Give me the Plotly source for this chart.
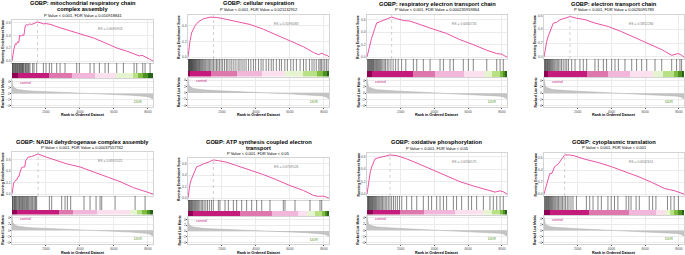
import plotly.graph_objects as go

W, H = 685, 255
N_GENES = 8300
FONT = "Liberation Sans, Arial, sans-serif"

# ---------------- data ----------------
titles = [
    ["GOBP: mitochondrial respiratory chain", "complex assembly"],
    ["GOBP: cellular respiration"],
    ["GOBP: respiratory electron transport chain"],
    ["GOBP: electron transport chain"],
    ["GOBP: NADH dehydrogenase complex assembly"],
    ["GOBP: ATP synthesis coupled electron", "transport"],
    ["GOBP: oxidative phosphorylation"],
    ["GOBP: cytoplasmic translation"],
]
pvals = [
    "P Value < 0.001, FDR Value = 0.010918841",
    "P Value < 0.001, FDR Value = 0.021132912",
    "P Value < 0.001, FDR Value = 0.000235959364",
    "P Value < 0.001, FDR Value = 0.0026095783",
    "P Value < 0.001, FDR Value = 0.00037557742",
    "P Value < 0.001, FDR Value < 0.05",
    "P Value < 0.001, FDR Value < 0.05",
    "P Value < 0.001, FDR Value < 0.001",
]
es_labels = ["ES = 0.6090903", "ES = 0.5093083", "ES = 0.6464726", "ES = 0.5852284",
             "ES = 0.6957021", "ES = 0.6709526", "ES = 0.6266575", "ES = 0.6562651"]

es_rank = [
    [0, 60, 120, 200, 260, 330, 400, 450, 560, 620, 700, 780, 850, 950, 1050, 1150, 1300, 1500, 1700, 1850, 2000, 2300, 2700, 3200, 4000, 4800, 5600, 6200, 6800, 7300, 7500, 7650, 7900, 8100, 8300],
    [0, 60, 120, 216, 300, 413, 610, 905, 1300, 1500, 1690, 2085, 2870, 3660, 4445, 5230, 6020, 6805, 7395, 7690, 7890, 8025, 8200, 8300],
    [0, 90, 178, 270, 375, 470, 573, 770, 968, 1166, 1462, 1758, 2150, 2550, 3140, 3930, 4720, 5510, 6300, 7090, 7690, 7980, 8150, 8300],
    [0, 80, 158, 250, 356, 450, 553, 750, 950, 1245, 1540, 1936, 2430, 3023, 3815, 4600, 5395, 6185, 6975, 7570, 7800, 7963, 8160, 8300],
    [0, 100, 215, 300, 355, 420, 450, 570, 690, 750, 810, 945, 1140, 1340, 1535, 2030, 2620, 3210, 4000, 4790, 5575, 6360, 7150, 7740, 8300],
    [0, 60, 118, 200, 314, 410, 510, 706, 900, 1197, 1490, 1785, 2275, 2865, 3650, 4435, 5220, 6000, 6790, 7380, 7670, 7965, 8150, 8300],
    [0, 70, 138, 200, 277, 370, 474, 672, 968, 1363, 1760, 2350, 3140, 3930, 4720, 5510, 6300, 7095, 7590, 7885, 8080, 8300],
    [0, 138, 237, 336, 474, 550, 632, 830, 1027, 1130, 1225, 1520, 1818, 2410, 3200, 3990, 4780, 5570, 6360, 7150, 7745, 8040, 8300],
]
es_score = [
    [0, 0.12, 0.2, 0.27, 0.26, 0.3, 0.29, 0.40, 0.39, 0.41, 0.40, 0.55, 0.57, 0.56, 0.58, 0.57, 0.59, 0.61, 0.595, 0.58, 0.585, 0.57, 0.53, 0.49, 0.435, 0.36, 0.27, 0.2, 0.15, 0.1, 0.08, 0.09, 0.05, 0.03, 0.0],
    [0, 0.12, 0.21, 0.31, 0.36, 0.40, 0.45, 0.49, 0.51, 0.512, 0.506, 0.49, 0.457, 0.416, 0.355, 0.28, 0.204, 0.13, 0.057, 0.03, 0.05, 0.03, 0.02, 0],
    [0, 0.12, 0.22, 0.3, 0.39, 0.47, 0.55, 0.57, 0.59, 0.62, 0.646, 0.62, 0.59, 0.58, 0.52, 0.45, 0.38, 0.28, 0.2, 0.11, 0.056, 0.045, 0.02, 0],
    [0, 0.12, 0.22, 0.3, 0.37, 0.44, 0.49, 0.50, 0.54, 0.56, 0.585, 0.56, 0.54, 0.49, 0.44, 0.366, 0.28, 0.195, 0.107, 0.024, 0.04, 0.05, 0.024, 0],
    [0, 0.19, 0.24, 0.25, 0.30, 0.31, 0.36, 0.46, 0.47, 0.47, 0.58, 0.64, 0.65, 0.68, 0.695, 0.64, 0.58, 0.525, 0.47, 0.385, 0.30, 0.215, 0.11, 0.06, 0],
    [0, 0.14, 0.25, 0.33, 0.42, 0.5, 0.55, 0.57, 0.60, 0.63, 0.67, 0.657, 0.63, 0.57, 0.494, 0.413, 0.32, 0.22, 0.134, 0.047, 0.03, 0.035, 0.015, 0],
    [0, 0.15, 0.277, 0.36, 0.433, 0.5, 0.563, 0.58, 0.60, 0.626, 0.616, 0.563, 0.475, 0.38, 0.287, 0.198, 0.13, 0.068, 0.031, 0.052, 0.036, 0],
    [0, 0.147, 0.23, 0.34, 0.35, 0.40, 0.46, 0.50, 0.57, 0.62, 0.656, 0.656, 0.64, 0.585, 0.53, 0.46, 0.38, 0.295, 0.20, 0.093, 0.055, 0.027, 0],
]

hits = [
    [20, 39, 80, 118, 160, 200, 236, 280, 314, 350, 400, 432, 470, 510, 550, 589, 620, 667, 700, 766, 800, 864, 900, 962, 1000, 1060, 1217, 1296, 1453, 1846, 2003, 2199, 2336, 2631, 2827, 3122, 3809, 3966, 4594, 4830, 5144, 5478, 5674, 6165, 6557, 7186, 7343, 7697, 7834, 8128],
    [15, 40, 70, 95, 120, 150, 180, 205, 240, 270, 300, 335, 365, 400, 430, 470, 510, 545, 590, 630, 680, 720, 770, 820, 870, 930, 990, 1050, 1120, 1190, 1260, 1340, 1420, 1500,
     1590, 1680, 1760, 1850, 1950, 2040, 2150, 2260, 2350, 2470, 2580, 2700, 2820, 2950, 3060, 3180, 3300, 3420, 3560, 3700, 3850, 3980,
     4150, 4300, 4420, 4600, 4750, 4900, 5020, 5200, 5380, 5500, 5700, 5850, 6050, 6200, 6380,
     6600, 6800, 6950, 7150, 7300, 7420, 7550, 7700, 7780, 7850, 7950, 8050, 8150, 8250],
    [20, 60, 100, 140, 180, 220, 260, 300, 340, 380, 420, 470, 520, 570, 620, 680, 740, 800, 870, 940, 1020, 1100, 1200, 1300, 1420, 1550, 1700, 1850, 2050, 2300,
     2750, 2950, 3340, 3740, 4330, 4530, 4920, 5120, 5710, 6010, 6300, 7100, 7690, 7890, 8080],
    [20, 55, 90, 130, 170, 210, 250, 290, 330, 380, 430, 480, 530, 590, 650, 720, 790, 870, 950, 1040, 1140, 1250, 1350, 1450,
     1640, 1840, 2130, 2330, 2530, 3020, 3220, 3520, 3710, 4010, 4210, 4410, 4800, 5200, 5490, 5790, 6090, 6580, 6980, 7570, 7860, 8060, 8160],
    [10, 39, 60, 118, 150, 196, 230, 275, 330, 393, 430, 471, 520, 569, 620, 667, 720, 766, 820, 864, 920, 962, 1020, 1100, 1160, 1217, 1290, 1355, 1400, 1453,
     2199, 2336, 2925, 3122, 3259, 3455, 4240, 4594, 4948, 5183, 5282, 6067, 7245, 7834],
    [15, 50, 90, 130, 170, 210, 255, 300, 350, 400, 450, 510, 570, 630, 700, 780, 860, 950, 1050, 1150, 1260, 1380, 1490,
     1785, 1880, 2180, 2375, 2670, 2865, 3160, 3450, 3750, 4040, 4340, 4825, 5610, 5710, 6300, 7180, 7770, 7870],
    [20, 55, 90, 125, 160, 200, 240, 280, 320, 360, 400, 450, 500, 550, 600, 660, 720, 780, 850, 920, 1000, 1080, 1170, 1260, 1360, 1460, 1570, 1680, 1800, 1930, 2060,
     2350, 2650, 2950, 3340, 3640, 3830, 4130, 4330, 4530, 4720, 5120, 5310, 5610, 6010, 6200, 6500, 6900, 7290, 7490, 7690, 7890, 8080],
    [20, 60, 100, 140, 180, 220, 260, 300, 340, 390, 440, 490, 540, 600, 660, 720, 790, 860, 940, 1020, 1100, 1190, 1280, 1380, 1480, 1600, 1720,
     1924, 2513, 2710, 2906, 3200, 3400, 3790, 3985, 4180, 4380, 4870, 5025, 5160, 5460, 5650, 6240, 6440, 6635, 7320, 7520, 7715, 7970],
]

cbar_bounds = [
    [0, 373, 2200, 3515, 4890, 6125, 7150, 7440, 7735, 8030, 8300],
    [0, 118, 1355, 2865, 4340, 5710, 6795, 7575, 7970, 8165, 8300],
    [0, 277, 2707, 4030, 5750, 6935, 7390, 7885, 8060, 8180, 8300],
    [0, 257, 2530, 3815, 5100, 6480, 7075, 7725, 7960, 8160, 8300],
    [0, 275, 2790, 3570, 5025, 6950, 7340, 7635, 7930, 8125, 8300],
    [0, 314, 3060, 4920, 6490, 6980, 7470, 7860, 8060, 8190, 8300],
    [0, 375, 1956, 3400, 5220, 6900, 7390, 7885, 8080, 8200, 8300],
    [0, 353, 2670, 5025, 6635, 7185, 7460, 7715, 7970, 8165, 8300],
]
PIYG = ["#8E0152", "#C51B7D", "#DE77AE", "#F1B6DA", "#FDE0EF",
        "#E6F5D0", "#B8E186", "#7FBC41", "#4D9221", "#276419"]

rank_x = [0, 15, 40, 80, 150, 250, 400, 600, 900, 1300, 2000, 3000, 4000, 4500, 5000, 6000, 7000, 7500, 7900, 8100, 8250, 8300]
rank_metric = [4.6, 3.6, 2.8, 2.2, 1.8, 1.5, 1.3, 1.1, 0.95, 0.8, 0.6, 0.35, 0.12, 0.02, -0.1, -0.3, -0.55, -0.7, -0.95, -1.2, -1.5, -1.8]
x_ticks = [2000, 4000, 6000, 8000]
rank_ticks = [-4, -2, 0, 2, 4]
group_labels = ["control", "DDR"]
group_label_x = [800, 7420]
group_label_y = [3.6, -2.9]

# ---------------- layout geometry (pixels) ----------------
geom = [
    dict(l=12, r=153, t=[3.5, 9.5], p=15.5, es=(20, 63), hb=73, cb=78, rb=107, xt=114.8),
    dict(l=188, r=329, t=[3.5], p=9.5, es=(15, 59), hb=71, cb=76.5, rb=107, xt=114.8),
    dict(l=367, r=507, t=[4], p=10, es=(15, 59), hb=71, cb=77, rb=107, xt=114.8),
    dict(l=544, r=684, t=[4], p=9.5, es=(14.5, 59), hb=71, cb=77, rb=107, xt=114.8),
    dict(l=12, r=153, t=[142], p=147.5, es=(152, 196), hb=210, cb=214.5, rb=244, xt=252.8),
    dict(l=188, r=329, t=[142, 148], p=153, es=(158, 200), hb=211, cb=216, rb=244, xt=252.8),
    dict(l=367, r=507, t=[142], p=148, es=(153, 196), hb=210, cb=214.5, rb=244, xt=252.8),
    dict(l=544, r=684, t=[142], p=147.5, es=(153, 196), hb=210, cb=215, rb=244, xt=252.8),
]


def px(v):
    return v / W


def py(v):
    return 1 - v / H


fig = go.Figure()
layout = {}
annotations = []
shapes = []
GRID = "#EBEBEB"
BORDER = "#D4D4D4"
TICKF = dict(family=FONT, size=3.3, color="#4D4D4D")

for i, g in enumerate(geom):
    a, b, c = 3 * i + 1, 3 * i + 2, 3 * i + 3
    xs = lambda n: "x" if n == 1 else f"x{n}"
    ys = lambda n: "y" if n == 1 else f"y{n}"
    xk = lambda n: "xaxis" if n == 1 else f"xaxis{n}"
    yk = lambda n: "yaxis" if n == 1 else f"yaxis{n}"
    xd = [px(g["l"]), px(g["r"])]
    es_top, es_bot = g["es"]

    # running enrichment score
    fig.add_trace(go.Scatter(x=es_rank[i], y=es_score[i], mode="lines",
                             line=dict(color="#E5409A", width=0.9),
                             xaxis=xs(a), yaxis=ys(a), showlegend=False, hoverinfo="skip"))
    smin, smax = min(es_score[i]), max(es_score[i])
    span = smax - smin
    layout[xk(a)] = dict(domain=xd, anchor=ys(a), range=[0, N_GENES], tickvals=x_ticks,
                         showticklabels=False, ticks="", showgrid=True, gridcolor=GRID, gridwidth=0.5,
                         showline=True, mirror=True, linecolor=BORDER, linewidth=0.6, zeroline=False)
    layout[yk(a)] = dict(domain=[py(es_bot), py(es_top)], anchor=xs(a),
                         range=[smin - 0.05 * span, smax + 0.05 * span], dtick=0.2, tick0=0,
                         tickformat=".1f", tickfont=TICKF, ticks="", ticklen=0, showgrid=True,
                         gridcolor=GRID, gridwidth=0.5, showline=True, mirror=True,
                         linecolor=BORDER, linewidth=0.6, zeroline=False)
    peak = es_rank[i][es_score[i].index(smax)]
    shapes.append(dict(type="line", xref=xs(a), yref=ys(a) + " domain", x0=peak, x1=peak,
                       y0=0, y1=1, line=dict(color="#BDBDBD", width=0.7, dash="dot")))
    annotations.append(dict(text=es_labels[i], xref=xs(a) + " domain", yref=ys(a) + " domain",
                            x=0.8, y=0.88, showarrow=False, font=dict(family=FONT, size=3.4, color="#808080")))

    # hits + colour bar
    hx, hy = [], []
    for h in hits[i]:
        hx += [h, h, None]
        hy += [0, 1, None]
    fig.add_trace(go.Scatter(x=hx, y=hy, mode="lines", line=dict(color="rgba(0,0,0,0.8)", width=0.6),
                             xaxis=xs(b), yaxis=ys(b), showlegend=False, hoverinfo="skip"))
    hh = g["hb"] - es_bot
    ch = g["cb"] - g["hb"]
    lo = -ch / hh
    bnd = cbar_bounds[i]
    fig.add_trace(go.Bar(orientation="h", base=bnd[:-1], x=[bnd[k + 1] - bnd[k] for k in range(10)],
                         y=[lo / 2] * 10, width=-lo, marker=dict(color=PIYG, line=dict(width=0)),
                         xaxis=xs(b), yaxis=ys(b), showlegend=False, hoverinfo="skip"))
    layout[xk(b)] = dict(domain=xd, anchor=ys(b), range=[0, N_GENES], visible=False)
    layout[yk(b)] = dict(domain=[py(g["cb"]), py(es_bot)], anchor=xs(b), range=[lo, 1], visible=False)

    # ranked list metric
    fig.add_trace(go.Scatter(x=rank_x, y=rank_metric, mode="lines", fill="tozeroy",
                             fillcolor="#C4C4C4", line=dict(color="#B0B0B0", width=0.5),
                             xaxis=xs(c), yaxis=ys(c), showlegend=False, hoverinfo="skip"))
    layout[xk(c)] = dict(domain=xd, anchor=ys(c), range=[0, N_GENES], tickvals=x_ticks,
                         tickfont=TICKF, ticks="outside", ticklen=0.8, tickwidth=0.5, tickcolor="#555",
                         showgrid=True, gridcolor=GRID, gridwidth=0.5, showline=True, mirror=True,
                         linecolor=BORDER, linewidth=0.6, zeroline=False)
    layout[yk(c)] = dict(domain=[py(g["rb"]), py(g["cb"] + 1)], anchor=xs(c), range=[-4.4, 4.8],
                         tickvals=rank_ticks, tickfont=TICKF, ticks="outside", ticklen=0.8, tickwidth=0.5,
                         tickcolor="#555", showgrid=True, gridcolor=GRID, gridwidth=0.5, showline=True,
                         mirror=True, linecolor=BORDER, linewidth=0.6, zeroline=False)
    for lab, lx, ly, col in zip(group_labels, group_label_x, group_label_y, ["#C51B7D", "#4D9221"]):
        annotations.append(dict(text=lab, xref=xs(c), yref=ys(c), x=lx, y=ly, showarrow=False,
                                font=dict(family=FONT, size=3.6, color=col)))

    # texts
    cx = px((g["l"] + g["r"]) / 2)
    for line, ty in zip(titles[i], g["t"]):
        annotations.append(dict(text="<b>" + line + "</b>", xref="paper", yref="paper", x=cx, y=py(ty),
                                showarrow=False, xanchor="center", yanchor="middle",
                                font=dict(family=FONT, size=5.7, color="black")))
    annotations.append(dict(text=pvals[i], xref="paper", yref="paper", x=cx, y=py(g["p"]),
                            showarrow=False, xanchor="center", yanchor="middle",
                            font=dict(family=FONT, size=4, color="black")))
    annotations.append(dict(text="<b>Rank in Ordered Dataset</b>", xref="paper", yref="paper", x=cx,
                            y=py(g["xt"]), showarrow=False, xanchor="center", yanchor="middle",
                            font=dict(family=FONT, size=3.7, color="black")))
    ytx = px(g["l"] - 9)
    annotations.append(dict(text="<b>Running Enrichment Score</b>", xref="paper", yref="paper", x=ytx,
                            y=py((es_top + es_bot) / 2), textangle=-90, showarrow=False,
                            xanchor="center", yanchor="middle", font=dict(family=FONT, size=3.4, color="black")))
    annotations.append(dict(text="<b>Ranked List Metric</b>", xref="paper", yref="paper", x=ytx,
                            y=py((g["cb"] + 1 + g["rb"]) / 2), textangle=-90, showarrow=False,
                            xanchor="center", yanchor="middle", font=dict(family=FONT, size=3.4, color="black")))

fig.update_layout(**layout)
fig.update_layout(width=W, height=H, margin=dict(l=0, r=0, t=0, b=0), template="none",
                  paper_bgcolor="white", plot_bgcolor="white", barmode="overlay", bargap=0,
                  annotations=annotations, shapes=shapes, font=dict(family=FONT))
fig.write_html("out.html", config={"displayModeBar": False},
               post_script="document.body.style.margin='0';document.body.style.overflow='hidden';")
